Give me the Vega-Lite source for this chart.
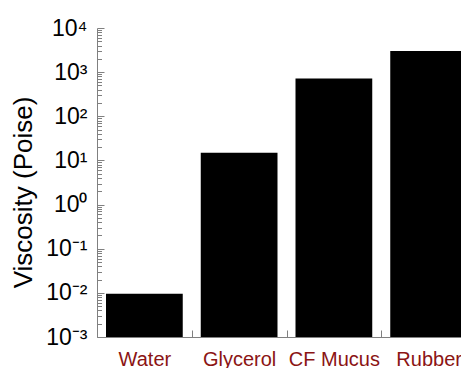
{
  "$schema": "https://vega.github.io/schema/vega-lite/v6.json",
  "width": 379,
  "height": 309,
  "autosize": "none",
  "padding": {"left": 97, "top": 28, "right": -15, "bottom": 31},
  "background": "white",
  "config": {"view": {"stroke": null}, "font": "Liberation Sans"},
  "data": {"values": [
    {"material": "Water", "viscosity": 0.0095},
    {"material": "Glycerol", "viscosity": 15},
    {"material": "CF Mucus", "viscosity": 720},
    {"material": "Rubber", "viscosity": 3000}
  ]},
  "mark": {"type": "bar", "color": "black", "width": {"band": 0.81}},
  "encoding": {
    "x": {
      "field": "material", "type": "nominal", "sort": null,
      "scale": {"paddingInner": 0, "paddingOuter": 0},
      "axis": {
        "title": null, "labelAngle": 0, "tickBand": "extent",
        "tickSize": -7, "tickColor": "#808080", "domainColor": "#808080",
        "labelColor": "#8B1414", "labelFontSize": 20, "labelPadding": 19,
        "labelFont": "Liberation Sans"
      }
    },
    "y": {
      "field": "viscosity", "type": "quantitative", "stack": null,
      "scale": {"type": "log", "domain": [0.001, 10000], "nice": false},
      "axis": {
        "title": "Viscosity (Poise)", "titleFontSize": 26, "titleFontWeight": "normal",
        "titleX": -74, "titleY": 164, "titleBaseline": "middle", "titleAngle": -90,
        "grid": false, "domainColor": "#808080", "tickColor": "#808080",
        "tickSize": {"condition": {"test": "abs(log(datum.value)/LN10 - round(log(datum.value)/LN10)) < 0.001", "value": -7}, "value": -4.5},
        "values": [0.001,0.002,0.003,0.004,0.005,0.006,0.007,0.008,0.009,
                   0.01,0.02,0.03,0.04,0.05,0.06,0.07,0.08,0.09,
                   0.1,0.2,0.3,0.4,0.5,0.6,0.7,0.8,0.9,
                   1,2,3,4,5,6,7,8,9,
                   10,20,30,40,50,60,70,80,90,
                   100,200,300,400,500,600,700,800,900,
                   1000,2000,3000,4000,5000,6000,7000,8000,9000,10000],
        "labelExpr": "abs(log(datum.value)/LN10 - round(log(datum.value)/LN10)) < 0.001 ? '10' + ['⁻³','⁻²','⁻¹','⁰','¹','²','³','⁴'][round(log(datum.value)/LN10)+3] : ''",
        "labelFontSize": 23, "labelColor": "black", "labelPadding": 17,
        "labelFont": "Liberation Sans", "labelOverlap": false, "labelBound": false, "labelFlush": false
      }
    }
  }
}
